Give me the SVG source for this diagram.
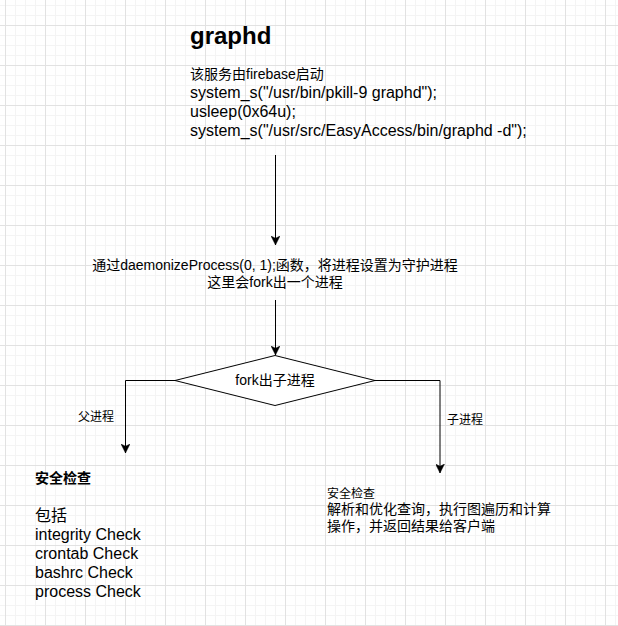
<svg xmlns="http://www.w3.org/2000/svg" width="618" height="626" viewBox="0 0 618 626">
  <style>
    text { font-family: "Liberation Sans", "Noto Sans CJK SC", sans-serif; fill: #000; }
    .edge { fill: none; stroke: #000; stroke-width: 1; }
    .shape { fill: #fff; stroke: #000; stroke-width: 1; }
  </style>
  <defs>
    <pattern id="minor" patternUnits="userSpaceOnUse" x="5" y="25" width="10" height="10">
      <rect x="0" y="0" width="1" height="10" fill="#f4f4f4"/>
      <rect x="0" y="0" width="10" height="1" fill="#f4f4f4"/>
    </pattern>
    <pattern id="major" patternUnits="userSpaceOnUse" x="5" y="25" width="40" height="40">
      <rect x="0" y="0" width="1" height="40" fill="#e2e2e2"/>
      <rect x="0" y="0" width="40" height="1" fill="#e2e2e2"/>
    </pattern>
    <marker id="arrow" viewBox="0 0 10 10" refX="10" refY="5" markerWidth="9" markerHeight="9" markerUnits="userSpaceOnUse" orient="auto">
      <path d="M0,0 L10,5 L0,10 L2.5,5 z" fill="#000" stroke="#000" stroke-width="0.5"/>
    </marker>
  </defs>

  <rect width="618" height="626" fill="#fff"/>
  <rect width="618" height="626" fill="url(#minor)"/>
  <rect width="618" height="626" fill="url(#major)"/>

  <g id="connectors">
    <path class="edge" d="M275.5 155 V245" marker-end="url(#arrow)"/>
    <path class="edge" d="M275.5 300 V355" marker-end="url(#arrow)"/>
    <path class="edge" d="M175 380.5 H125.5 V453" marker-end="url(#arrow)"/>
    <path class="edge" d="M375 380.5 H440 V473" marker-end="url(#arrow)"/>
  </g>

  <g id="title">
    <text x="190" y="44" font-size="24" font-weight="bold">graphd</text>
  </g>

  <g id="startup">
    <text x="190" y="79" font-size="14">该服务由firebase启动</text>
    <text x="190" y="98" font-size="16">system_s("/usr/bin/pkill-9 graphd");</text>
    <text x="190" y="117" font-size="16">usleep(0x64u);</text>
    <text x="190" y="136" font-size="16">system_s("/usr/src/EasyAccess/bin/graphd -d");</text>
  </g>

  <g id="daemonize">
    <text x="275" y="270" font-size="14" text-anchor="middle">通过daemonizeProcess(0, 1);函数，将进程设置为守护进程</text>
    <text x="275" y="287" font-size="14" text-anchor="middle">这里会fork出一个进程</text>
  </g>

  <g id="fork">
    <polygon class="shape" points="275,355.5 375,380.5 275,405.5 175,380.5"/>
    <text x="275" y="385" font-size="14" text-anchor="middle">fork出子进程</text>
  </g>

  <g id="label-parent">
    <text x="96" y="421" font-size="12" text-anchor="middle">父进程</text>
  </g>

  <g id="label-child">
    <text x="465" y="424" font-size="12" text-anchor="middle">子进程</text>
  </g>

  <g id="parent">
    <text x="35" y="483" font-size="14" font-weight="bold">安全检查</text>
    <text x="35" y="521" font-size="16">包括</text>
    <text x="35" y="540" font-size="16">integrity Check</text>
    <text x="35" y="559" font-size="16">crontab Check</text>
    <text x="35" y="578" font-size="16">bashrc Check</text>
    <text x="35" y="597" font-size="16">process Check</text>
  </g>

  <g id="child">
    <text x="327" y="498" font-size="12">安全检查</text>
    <text x="327" y="514" font-size="14">解析和优化查询，执行图遍历和计算</text>
    <text x="327" y="531" font-size="14">操作，并返回结果给客户端</text>
  </g>
</svg>
